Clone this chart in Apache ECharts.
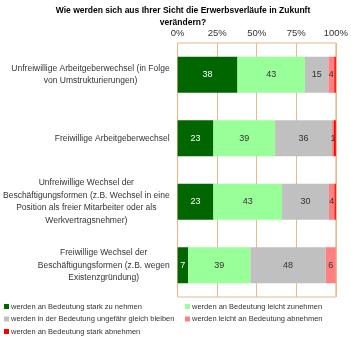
<!DOCTYPE html>
<html><head><meta charset="utf-8">
<script src="https://cdn.jsdelivr.net/npm/echarts@6/dist/echarts.min.js"></script>
<style>html,body{margin:0;padding:0;background:#fff}#c{width:351px;height:340px}</style>
</head><body><div id="c"></div>
<script>
var categories = [
  "Unfreiwillige Arbeitgeberwechsel (in Folge\nvon Umstrukturierungen)",
  "Freiwillige Arbeitgeberwechsel",
  "Unfreiwillige Wechsel der\nBeschäftigungsformen (z.B. Wechsel in eine\nPosition als freier Mitarbeiter oder als\nWerkvertragsnehmer)",
  "Freiwillige Wechsel der\nBeschäftigungsformen (z.B. wegen\nExistenzgründung)"
];
var seriesNames = [
  "werden an Bedeutung stark zu nehmen",
  "werden an Bedeutung leicht zunehmen",
  "werden in der Bedeutung ungefähr gleich bleiben",
  "werden leicht an Bedeutung abnehmen",
  "werden an Bedeutung stark abnehmen"
];
var starkZu = [37.8, 22.6, 22.6, 6.6];
var leichtZu = [42.7, 39.0, 43.4, 39.4];
var gleich = [14.8, 36.0, 29.6, 47.6];
var leichtAb = [3.7, 1.2, 3.5, 6.4];
var starkAb = [1.0, 1.2, 0.9, 0];
var tickLabels = ["0%", "25%", "50%", "75%", "100%"];
var colors = ["#006600", "#99ff99", "#c0c0c0", "#ff8080", "#ff0000"];

var values = [starkZu, leichtZu, gleich, leichtAb, starkAb];
var font = "Liberation Sans, Arial, sans-serif";
var chart = echarts.init(document.getElementById('c'));
var series = values.map(function (arr, i) {
  return {
    name: seriesNames[i], type: 'bar', stack: 't', barWidth: 36,
    data: arr, itemStyle: { color: colors[i] },
    label: {
      show: i < 4, position: 'inside', fontSize: 9, fontFamily: font,
      color: i === 0 ? '#ffffff' : '#333333',
      formatter: function (p) { return p.value > 0 ? Math.round(p.value) : ''; }
    }
  };
});
var legendBase = { orient: 'vertical', top: 302, padding: 0, itemWidth: 5, itemHeight: 5, itemGap: 3.5, icon: 'rect',
  textStyle: { fontSize: 7.5, color: '#333', fontFamily: font, lineHeight: 9, padding: [0, 0, 0, -3] } };
chart.setOption({
  animation: false,
  textStyle: { fontFamily: font },
  title: {
    text: "Wie werden sich aus Ihrer Sicht die Erwerbsverläufe in Zukunft\nverändern?",
    left: 178, top: 0, textAlign: 'center',
    textStyle: { fontSize: 8.5, fontWeight: 'bold', color: '#000', lineHeight: 11.5, fontFamily: font }
  },
  grid: { left: 176, right: 13, top: 43, bottom: 43, show: true, borderColor: '#e6b98f', borderWidth: 1 },
  xAxis: {
    type: 'value', position: 'top', min: 0, max: 100, interval: 25,
    axisLine: { show: false }, axisTick: { show: false },
    splitLine: { show: true, lineStyle: { color: '#e6b98f' } },
    axisLabel: { fontSize: 9.5, color: '#333', margin: 5, fontFamily: font,
      formatter: function (v) { return tickLabels[v / 25]; } }
  },
  yAxis: {
    type: 'category', inverse: true, data: categories,
    axisLine: { show: false }, axisTick: { show: false },
    axisLabel: {
      margin: 8, align: 'right',
      formatter: function (v) { return v.split('\n').map(function (l) { return '{c|' + l + '}'; }).join('\n'); },
      rich: { c: { align: 'center', fontSize: 8.5, color: '#333', lineHeight: 12.5, fontFamily: font } }
    }
  },
  legend: [
    Object.assign({}, legendBase, { left: 4, data: [seriesNames[0], seriesNames[2], seriesNames[4]] }),
    Object.assign({}, legendBase, { left: 185, data: [seriesNames[1], seriesNames[3]] })
  ],
  series: series
});
</script></body></html>
